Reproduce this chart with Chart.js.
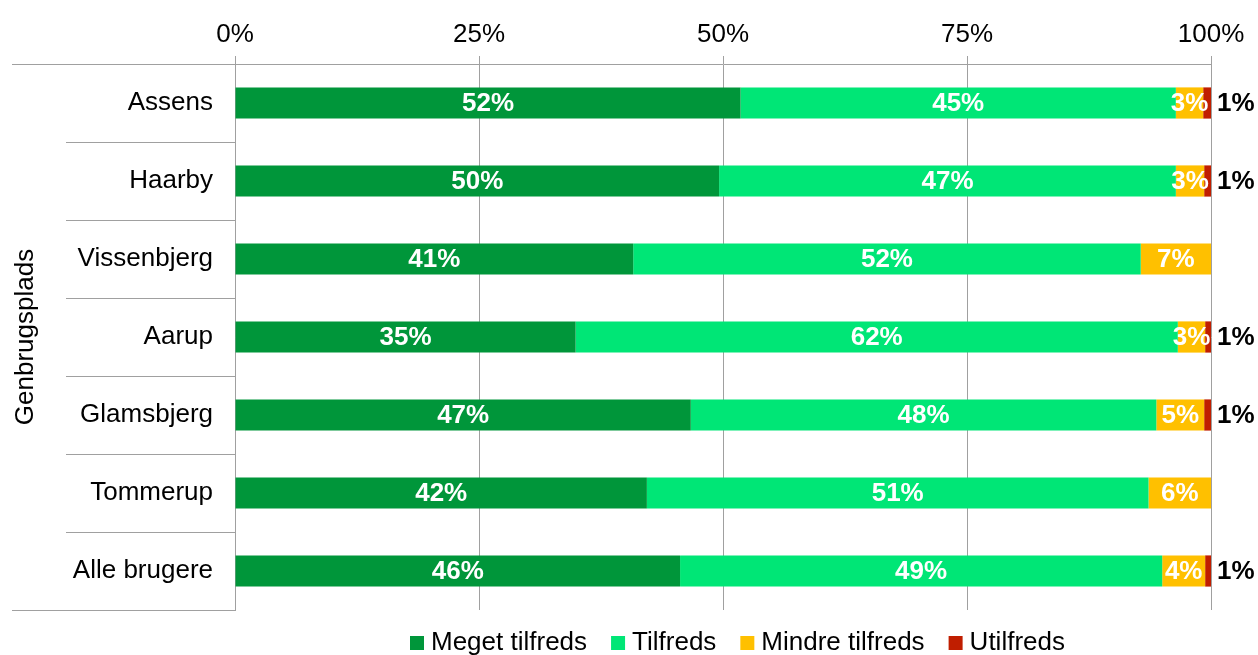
<!DOCTYPE html>
<html>
<head>
<meta charset="utf-8">
<script src="https://cdn.jsdelivr.net/npm/chart.js@4"></script>
<style>
  html, body { margin: 0; padding: 0; background: #fff; }
  canvas { display: block; }
</style>
</head>
<body>
<canvas id="chart" width="1258" height="655"></canvas>
<script>
// Genbrugspladser - tilfredshed
const categories = ['Assens', 'Haarby', 'Vissenbjerg', 'Aarup', 'Glamsbjerg', 'Tommerup', 'Alle brugere'];
const seriesNames = ['Meget tilfreds', 'Tilfreds', 'Mindre tilfreds', 'Utilfreds'];
const megetTilfreds = [51.8, 49.6, 40.8, 34.9, 46.7, 42.2, 45.6];
const tilfreds = [44.6, 46.8, 52.0, 61.7, 47.7, 51.4, 49.4];
const mindreTilfreds = [2.8, 2.9, 7.2, 2.8, 4.9, 6.4, 4.4];
const utilfreds = [0.8, 0.7, 0, 0.6, 0.7, 0, 0.6];
const xTicks = [0, 25, 50, 75, 100];
const yTitle = 'Genbrugsplads';

const colors = ['#00963a', '#00e676', '#ffc000', '#c01e00'];
const FONT = "'Liberation Sans', Arial, sans-serif";
const gridColor = '#a0a0a0';

Chart.defaults.font.family = FONT;
Chart.defaults.font.size = 26;
Chart.defaults.color = '#000';

// value labels inside the bars, red one outside to the right
const barLabels = {
    id: 'barLabels',
    afterDatasetsDraw(chart) {
        const ctx = chart.ctx;
        ctx.save();
        ctx.font = 'bold 26px ' + FONT;
        ctx.textBaseline = 'middle';
        chart.data.datasets.forEach((ds, di) => {
            const meta = chart.getDatasetMeta(di);
            meta.data.forEach((bar, i) => {
                const v = ds.data[i];
                if (!v) return;
                const txt = Math.round(v) + '%';
                if (di === 3) {
                    ctx.fillStyle = '#000';
                    ctx.textAlign = 'left';
                    ctx.fillText(txt, bar.x + 6, bar.y + 1);
                } else {
                    ctx.fillStyle = '#fff';
                    ctx.textAlign = 'center';
                    ctx.fillText(txt, (bar.x + bar.base) / 2, bar.y + 1);
                }
            });
        });
        ctx.restore();
    }
};

// category separator lines on the left side + custom legend
const extras = {
    id: 'extras',
    afterDraw(chart) {
        const ctx = chart.ctx;
        const area = chart.chartArea;
        const y = chart.scales.y;
        const n = categories.length;
        const step = (y.getPixelForValue(n - 1) - y.getPixelForValue(0)) / (n - 1);
        ctx.save();
        ctx.strokeStyle = gridColor;
        ctx.lineWidth = 1;
        for (let i = 0; i <= n; i++) {
            const py = Math.round(y.getPixelForValue(i) - step / 2) + 0.5;
            const x0 = (i === 0 || i === n) ? 12 : 66;
            ctx.beginPath();
            ctx.moveTo(x0, py);
            ctx.lineTo(area.left, py);
            ctx.stroke();
        }

        // legend
        ctx.font = '26px ' + FONT;
        ctx.textBaseline = 'middle';
        ctx.textAlign = 'left';
        let x = 410;
        const cy = 643;
        seriesNames.forEach((name, i) => {
            ctx.fillStyle = colors[i];
            ctx.fillRect(x, cy - 7, 14, 14);
            x += 21;
            ctx.fillStyle = '#000';
            ctx.fillText(name, x, cy);
            x += ctx.measureText(name).width + 24;
        });
        ctx.restore();
    }
};

const datasets = [megetTilfreds, tilfreds, mindreTilfreds, utilfreds].map((d, i) => ({
    label: seriesNames[i],
    data: d,
    backgroundColor: colors[i],
    borderWidth: 0,
    barPercentage: 0.4,
    categoryPercentage: 1
}));

new Chart(document.getElementById('chart'), {
    type: 'bar',
    data: { labels: categories, datasets: datasets },
    options: {
        indexAxis: 'y',
        responsive: false,
        animation: false,
        layout: { padding: { left: 0, right: 47, top: 0, bottom: 45 } },
        plugins: {
            legend: { display: false },
            tooltip: { enabled: false }
        },
        scales: {
            x: {
                position: 'top',
                stacked: true,
                min: 0,
                max: 100,
                afterBuildTicks(scale) {
                    scale.ticks = xTicks.map(v => ({ value: v }));
                },
                afterFit(scale) { scale.height = 64; },
                ticks: {
                    callback: v => v + '%',
                    padding: 6,
                    font: { size: 26 },
                    color: '#000'
                },
                grid: { color: gridColor, tickLength: 8, tickColor: gridColor },
                border: { color: gridColor }
            },
            y: {
                stacked: true,
                afterFit(scale) { scale.width = 235; },
                ticks: { padding: 22, font: { size: 26 }, color: '#000' },
                grid: { display: false, drawTicks: false },
                border: { color: gridColor },
                title: {
                    display: true,
                    text: yTitle,
                    font: { size: 26 },
                    color: '#000',
                    padding: { top: 10, bottom: 4 }
                }
            }
        }
    },
    plugins: [barLabels, extras]
});
</script>
</body>
</html>
